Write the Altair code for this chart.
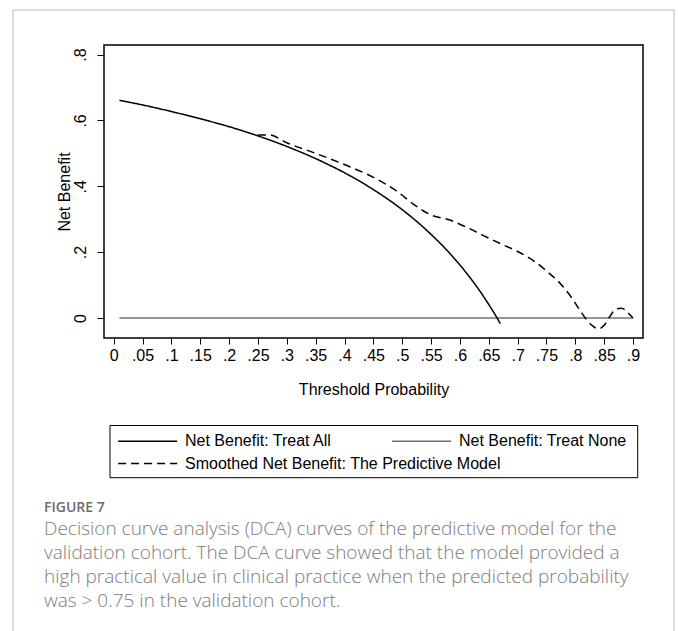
import altair as alt
import pandas as pd

# ---------------- data ----------------
x_ticks = [0, 0.05, 0.1, 0.15, 0.2, 0.25, 0.3, 0.35, 0.4, 0.45,
           0.5, 0.55, 0.6, 0.65, 0.7, 0.75, 0.8, 0.85, 0.9]
y_ticks = [0, 0.2, 0.4, 0.6, 0.8]

series_names = ["Net Benefit: Treat All",
                "Net Benefit: Treat None",
                "Smoothed Net Benefit: The Predictive Model"]

treat_all_x = [0.01, 0.05, 0.10, 0.15, 0.20, 0.25, 0.30, 0.35, 0.40, 0.45,
               0.50, 0.55, 0.58, 0.60, 0.62, 0.64, 0.65, 0.66, 0.67]
treat_all_y = [0.661, 0.647, 0.627, 0.605, 0.581, 0.553, 0.521, 0.484, 0.441, 0.390,
               0.329, 0.254, 0.201, 0.161, 0.117, 0.068, 0.041, 0.013, -0.017]

treat_none_x = [0.01, 0.90]
treat_none_y = [0.0, 0.0]

model_x = [0.25, 0.27, 0.30, 0.35, 0.40, 0.45, 0.49, 0.52, 0.537, 0.55,
           0.58, 0.61, 0.64, 0.67, 0.70, 0.73, 0.75, 0.777, 0.795, 0.81,
           0.82, 0.83, 0.84, 0.85, 0.86, 0.87, 0.88, 0.89, 0.90]
model_y = [0.556, 0.556, 0.532, 0.500, 0.466, 0.427, 0.386, 0.345, 0.325, 0.313,
           0.299, 0.277, 0.251, 0.226, 0.202, 0.171, 0.143, 0.099, 0.058, 0.018,
           -0.006, -0.024, -0.033, -0.022, 0.005, 0.027, 0.030, 0.018, 0.0]

figure_label = "FIGURE 7"
caption_lines = [
    "Decision curve analysis (DCA) curves of the predictive model for the",
    "validation cohort. The DCA curve showed that the model provided a",
    "high practical value in clinical practice when the predicted probability",
    "was > 0.75 in the validation cohort.",
]

# ---------------- table ----------------
rows = []
for name, xs, ys in [(series_names[1], treat_none_x, treat_none_y),
                     (series_names[0], treat_all_x, treat_all_y),
                     (series_names[2], model_x, model_y)]:
    for i, (xv, yv) in enumerate(zip(xs, ys)):
        rows.append({"series": name, "dash_key": name, "pt": xv, "nb": yv, "order": i})
df = pd.DataFrame(rows)

FONT = "Liberation Sans"

common_legend = dict(
    title=None,
    orient="none",
    legendX=13,
    direction="horizontal",
    padding=0,
    symbolType="M-1,0H7",
    symbolSize=217.6,
    symbolStrokeWidth=1.5,
    labelOffset=51,
    labelFont=FONT,
    labelFontSize=16,
    labelColor="black",
    labelLimit=0,
)

dash_domain = [series_names[2], series_names[0], series_names[1]]

lines = alt.Chart(df).mark_line(strokeWidth=1.5, interpolate="monotone").encode(
    x=alt.X("pt:Q",
            scale=alt.Scale(domain=[-0.0168, 0.9173], nice=False, zero=False),
            axis=alt.Axis(values=x_ticks,
                          labelExpr="datum.value == 0 ? '0' : replace(format(datum.value, '.2~f'), '0.', '.')",
                          title="Threshold Probability",
                          tickSize=6, labelPadding=3, titlePadding=18,
                          labelFlush=False, labelOverlap=False)),
    y=alt.Y("nb:Q",
            scale=alt.Scale(domain=[-0.0607, 0.829], nice=False, zero=False),
            axis=alt.Axis(values=y_ticks,
                          labelExpr="datum.value == 0 ? '0' : replace(format(datum.value, '.1~f'), '0.', '.')",
                          title="Net Benefit",
                          labelAngle=270, tickSize=7, labelPadding=9, titlePadding=0)),
    color=alt.Color("series:N",
                    scale=alt.Scale(domain=series_names,
                                    range=["#000000", "#707070", "#000000"]),
                    legend=alt.Legend(values=series_names[:2], legendY=387.6,
                                      columnPadding=56, **common_legend)),
    strokeDash=alt.StrokeDash("dash_key:N",
                              scale=alt.Scale(domain=dash_domain,
                                              range=[[8, 5], [1, 0], [1, 0]]),
                              legend=alt.Legend(values=series_names[2:], legendY=410,
                                                symbolStrokeColor="black",
                                                **common_legend)),
    order="order:Q",
)

card = alt.Chart(alt.Data(values=[{"k": 1}])).mark_rect(
    fillOpacity=0, stroke="#d2d2d2", strokeWidth=1.5
).encode(
    x=alt.value(-91), x2=alt.value(570), y=alt.value(-35), y2=alt.value(600)
)

legend_box = alt.Chart(alt.Data(values=[{"k": 1}])).mark_rect(
    fillOpacity=0, stroke="black", strokeWidth=1
).encode(
    x=alt.value(6), x2=alt.value(533.7), y=alt.value(380.5), y2=alt.value(432.7)
)

chart = alt.layer(card, legend_box, lines).properties(
    width=539,
    height=293,
    autosize=alt.AutoSizeParams(type="none"),
    padding={"left": 104, "top": 45, "right": 35, "bottom": 293},
    title=alt.TitleParams(
        text=figure_label,
        subtitle=caption_lines,
        orient="bottom",
        anchor="start",
        frame="group",
        offset=0,
        dx=-60,
        dy=-145,
        font="Open Sans",
        fontSize=14,
        fontWeight=600,
        color="#6b6b6b",
        subtitleFont="Open Sans",
        subtitleFontSize=19,
        subtitleFontWeight=300,
        subtitleColor="#7d7d7d",
        subtitleLineHeight=24,
        subtitlePadding=5,
    ),
).configure(
    background="white",
).configure_view(
    stroke="black", strokeWidth=1.5
).configure_axis(
    domain=False, grid=False,
    tickColor="black", tickWidth=1,
    labelFont=FONT, labelFontSize=16, labelColor="black",
    titleFont=FONT, titleFontSize=16, titleFontWeight="normal", titleColor="black",
)

chart.save("out.html", embed_options={"renderer": "svg", "actions": False})
